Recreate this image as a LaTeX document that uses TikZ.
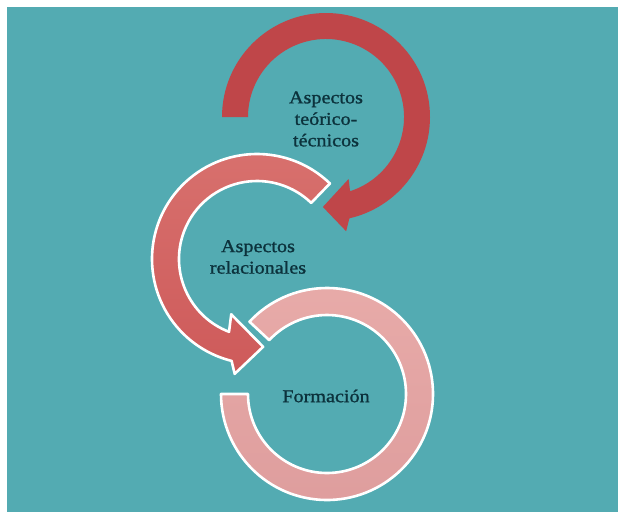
\documentclass[tikz,border=0pt]{standalone}
\usepackage{fontspec}
\setmainfont{Liberation Serif}[FakeStretch=1.12,FakeBold=1.2]
\definecolor{bgteal}{HTML}{53ABB2}
\definecolor{arrowone}{HTML}{BF4649}
\definecolor{twotop}{HTML}{D8716E}
\definecolor{twobot}{HTML}{CE5A5A}
\definecolor{threetop}{HTML}{E8ABA9}
\definecolor{threebot}{HTML}{DE9D9D}
\definecolor{txtc}{HTML}{0C323C}
\tikzset{
  lbl/.style={font=\fontsize{18}{21.5}\selectfont, text=txtc, align=center, inner sep=0pt},
  outlined/.style={draw=white, line width=2.6pt, line join=round}
}
\begin{document}
\begin{tikzpicture}[x=1pt,y=1pt]
\useasboundingbox (0,0) rectangle (618,-512);
\fill[white] (0,0) rectangle (618,-512);
\fill[bgteal] (7,-7) rectangle (618,-512);

% circle 3 (Formacion)
\begin{scope}[shift={(327,-394)}]
\path[outlined, top color=threetop, bottom color=threebot]
  (137:106) arc[start angle=137,end angle=-180,radius=106]
  -- (180:79) arc[start angle=-180,end angle=137,radius=79] -- cycle;
\end{scope}

% circle 2 (Aspectos relacionales)
\begin{scope}[shift={(257,-259)}]
\path[outlined, top color=twotop, bottom color=twobot]
  (46:105) arc[start angle=46,end angle=256,radius=105]
  -- (259:117) -- (274:88) -- (245:61) -- (249:78)
  arc[start angle=249,end angle=46,radius=78] -- cycle;
\end{scope}

% circle 1 (Aspectos teorico-tecnicos)
\begin{scope}[shift={(326,-117)}]
\fill[arrowone]
  (180:104) arc[start angle=180,end angle=-77,radius=104]
  -- (-80:116) -- (-92:90) -- (-70:66) -- (-72:78)
  arc[start angle=-72,end angle=180,radius=78] -- cycle;
\end{scope}

\node[lbl] (t1) at (326,-119) {Aspectos\\teórico-\\técnicos};
\node[lbl] (t2) at (258,-257) {Aspectos\\relacionales};
\node[lbl] (t3) at (326,-396) {Formación};
\end{tikzpicture}
\end{document}
